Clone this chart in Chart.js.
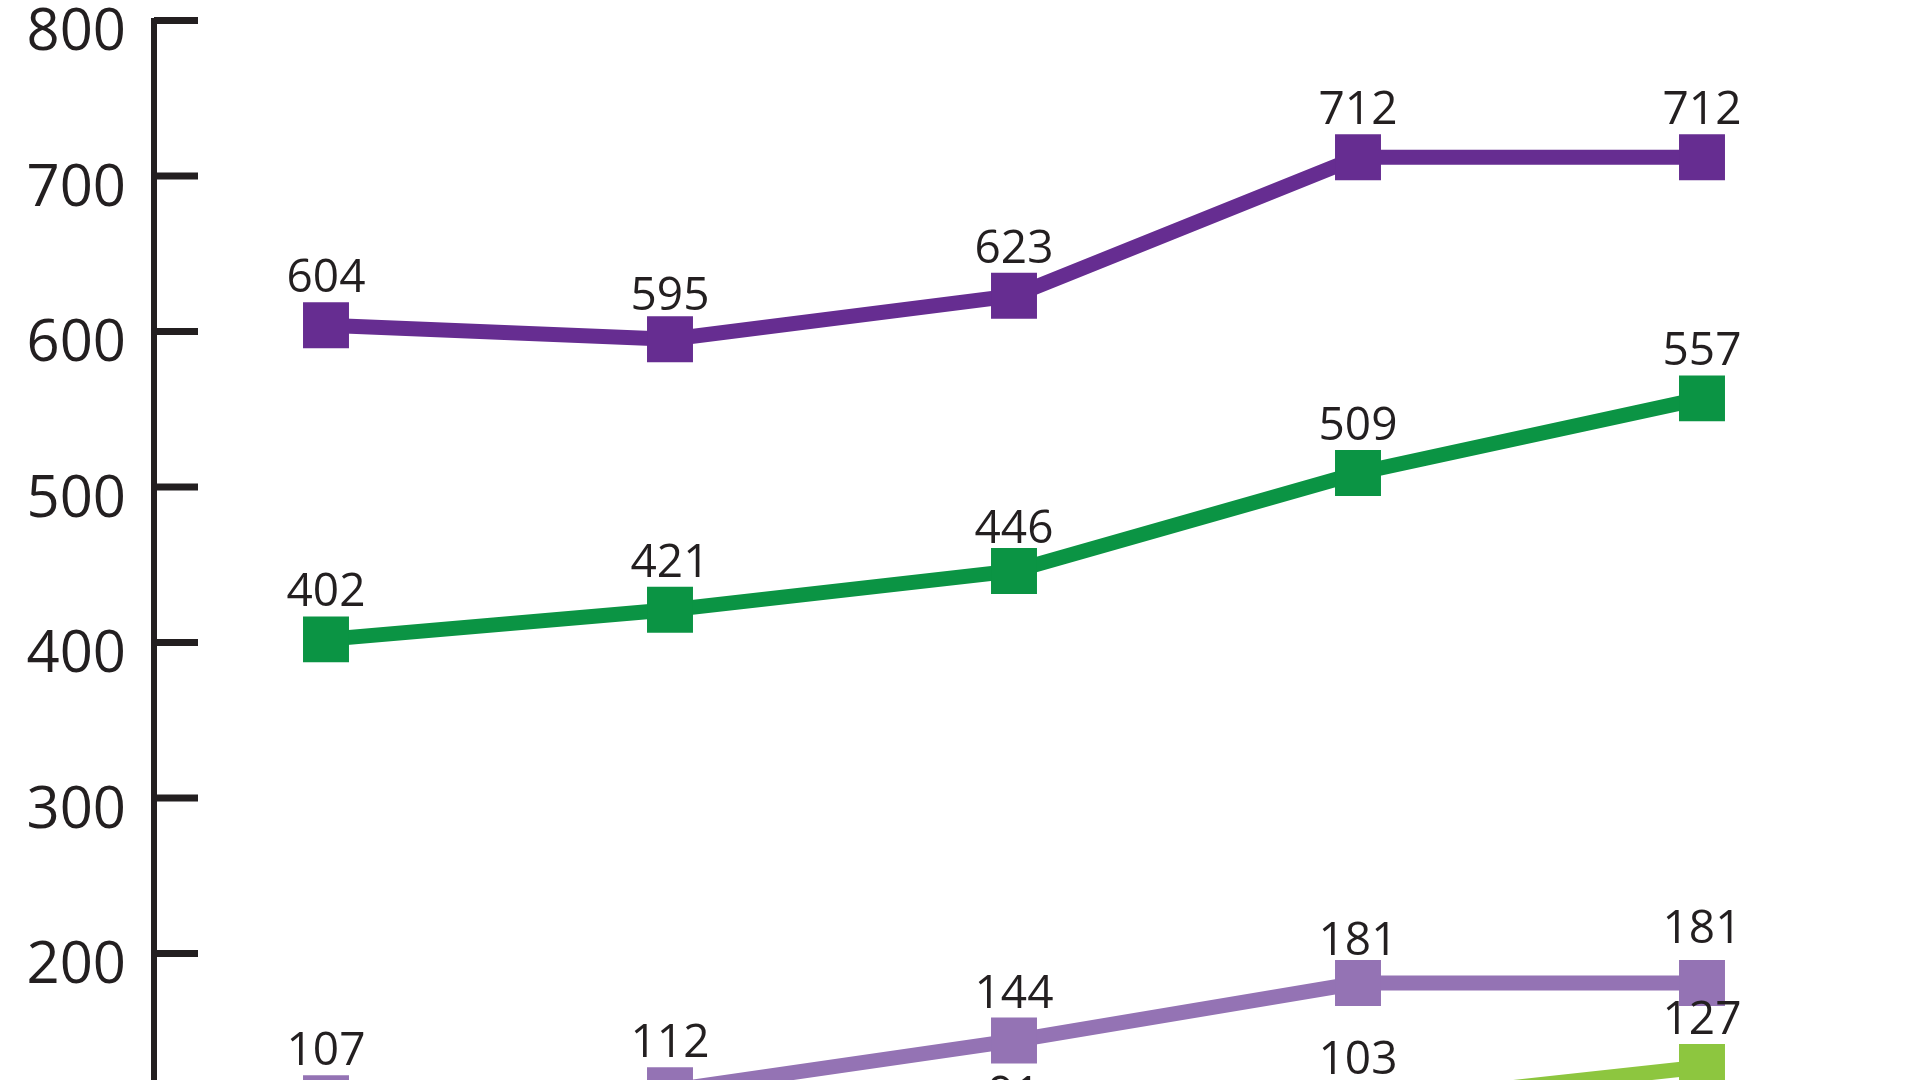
<!DOCTYPE html>
<html>
<head>
<meta charset="utf-8">
<script src="https://cdn.jsdelivr.net/npm/chart.js@4.4.1/dist/chart.umd.min.js"></script>
<style>
  html, body { margin: 0; padding: 0; background: #ffffff; overflow: hidden; width: 1920px; height: 1080px; }
  #wrap { position: absolute; left: 0; top: 0; width: 1920px; height: 1300px; }
</style>
</head>
<body>
<div id="wrap"><canvas id="c" width="1920" height="1300"></canvas></div>
<script>
// ---- data ----
const categories = ['1', '2', '3', '4', '5'];
const seriesA = [604, 595, 623, 712, 712];   // dark purple
const seriesB = [402, 421, 446, 509, 557];   // green
const seriesC = [107, 112, 144, 181, 181];   // light purple
const seriesD = [66, 73, 91, 103, 127];      // light green (first two lie below the visible frame; estimated)
const yTicks = [0, 100, 200, 300, 400, 500, 600, 700, 800];

const colors = ['#662d91', '#0b9444', '#9473b4', '#8dc63f'];
const textColor = '#231f20';
// label vertical nudges (style only), per dataset / point, in px
const labelNudge = [[0, 4, 0, 0, 0], [0, 0, 5, 0, 0], [0, 0, 0, 5, -7], [0, 0, 19, 3, 0]];

function ds(data, color) {
  return {
    data: data,
    borderColor: color,
    backgroundColor: color,
    borderWidth: 15,
    pointStyle: 'rect',
    pointRadius: 32.5,
    pointHoverRadius: 32.5,
    pointBorderWidth: 0,
    pointBackgroundColor: color,
    tension: 0,
    clip: false
  };
}

const labelPlugin = {
  id: 'valueLabels',
  afterDatasetsDraw(chart) {
    const ctx = chart.ctx;
    ctx.save();
    ctx.font = '46px "Open Sans"';
    ctx.fillStyle = textColor;
    ctx.textAlign = 'center';
    ctx.textBaseline = 'alphabetic';
    chart.data.datasets.forEach((d, di) => {
      const meta = chart.getDatasetMeta(di);
      meta.data.forEach((pt, i) => {
        ctx.fillText(String(d.data[i]), pt.x, pt.y - 33 + labelNudge[di][i]);
      });
    });
    ctx.restore();
  }
};

const innerTicks = {
  id: 'innerTicks',
  afterDraw(chart) {
    const y = chart.scales.y;
    const ctx = chart.ctx;
    ctx.save();
    ctx.strokeStyle = textColor;
    ctx.lineWidth = 7;
    yTicks.forEach(v => {
      const py = y.getPixelForValue(v);
      ctx.beginPath();
      ctx.moveTo(y.right, py);
      ctx.lineTo(y.right + 44, py);
      ctx.stroke();
    });
    ctx.restore();
  }
};

new Chart(document.getElementById('c'), {
  type: 'line',
  data: {
    labels: categories,
    datasets: [ds(seriesA, colors[0]), ds(seriesB, colors[1]), ds(seriesC, colors[2]), ds(seriesD, colors[3])]
  },
  options: {
    responsive: false,
    animation: false,
    devicePixelRatio: 1,
    layout: { autoPadding: false, padding: { top: 20.5, right: 46, bottom: 35.5, left: 0 } },
    plugins: { legend: { display: false }, tooltip: { enabled: false } },
    scales: {
      x: { display: false, offset: true },
      y: {
        min: 0, max: 800,
        afterFit(scale) { scale.width = 154; scale.paddingTop = 0; scale.paddingBottom = 0; },
        afterBuildTicks(scale) { scale.ticks = yTicks.map(v => ({ value: v })); },
        grid: { display: false },
        border: { display: true, color: textColor, width: 6 },
        ticks: {
          color: textColor,
          font: { family: '"Open Sans"', size: 58, lineHeight: 0.5 },
          padding: 20,
          labelOffset: 13
        }
      }
    }
  },
  plugins: [labelPlugin, innerTicks]
});
</script>
</body>
</html>
